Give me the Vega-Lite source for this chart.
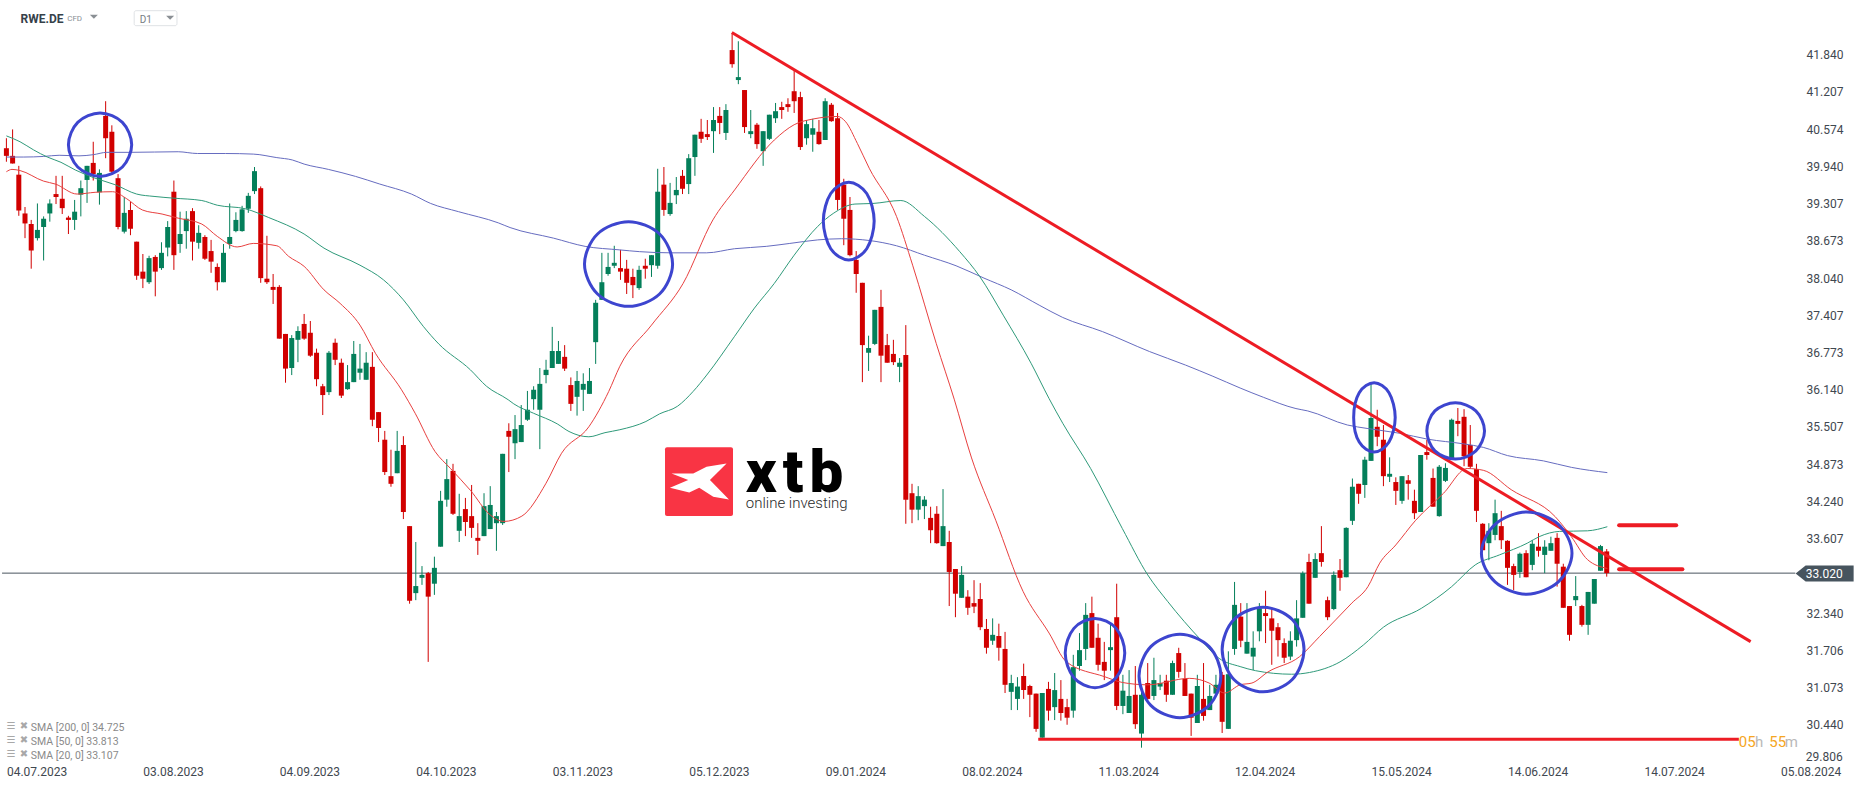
{
  "$schema": "https://vega.github.io/schema/vega-lite/v6.json",
  "width": 1866,
  "height": 787,
  "padding": 0,
  "autosize": {"type": "none"},
  "background": "white",
  "config": {"view": {"stroke": null}, "font": "Roboto"},
  "datasets": {
    "candles": [
      {"n":0,"open":40.25,"high":40.42,"low":40.02,"close":40.12},
      {"n":1,"open":40.12,"high":40.57,"low":39.99,"close":39.99},
      {"n":2,"open":39.80,"high":39.95,"low":39.10,"close":39.19},
      {"n":3,"open":39.14,"high":39.25,"low":38.72,"close":38.97},
      {"n":4,"open":38.96,"high":39.03,"low":38.20,"close":38.51},
      {"n":5,"open":38.72,"high":39.31,"low":38.68,"close":38.86},
      {"n":6,"open":38.91,"high":39.09,"low":38.34,"close":39.05},
      {"n":7,"open":39.14,"high":39.38,"low":39.00,"close":39.31},
      {"n":8,"open":39.47,"high":39.78,"low":39.30,"close":39.42},
      {"n":9,"open":39.39,"high":39.78,"low":39.13,"close":39.23},
      {"n":10,"open":39.07,"high":39.10,"low":38.79,"close":39.03},
      {"n":11,"open":39.03,"high":39.37,"low":38.86,"close":39.17},
      {"n":12,"open":39.46,"high":39.70,"low":39.09,"close":39.57},
      {"n":13,"open":39.71,"high":39.95,"low":39.32,"close":39.95},
      {"n":14,"open":40.00,"high":40.36,"low":39.70,"close":39.81},
      {"n":15,"open":39.50,"high":39.89,"low":39.29,"close":39.83},
      {"n":16,"open":40.80,"high":41.05,"low":40.08,"close":40.42},
      {"n":17,"open":40.53,"high":40.64,"low":39.80,"close":39.85},
      {"n":18,"open":39.74,"high":39.81,"low":38.87,"close":38.91},
      {"n":19,"open":38.83,"high":39.42,"low":38.80,"close":39.15},
      {"n":20,"open":39.20,"high":39.34,"low":38.77,"close":38.88},
      {"n":21,"open":38.66,"high":38.66,"low":38.01,"close":38.08},
      {"n":22,"open":38.15,"high":38.45,"low":37.87,"close":38.03},
      {"n":23,"open":37.97,"high":38.42,"low":37.94,"close":38.38},
      {"n":24,"open":38.40,"high":38.43,"low":37.73,"close":38.15},
      {"n":25,"open":38.21,"high":38.65,"low":38.18,"close":38.47},
      {"n":26,"open":38.56,"high":39.01,"low":38.41,"close":38.91},
      {"n":27,"open":39.51,"high":39.70,"low":38.18,"close":38.43},
      {"n":28,"open":38.62,"high":39.17,"low":38.47,"close":38.79},
      {"n":29,"open":38.84,"high":39.18,"low":38.54,"close":39.05},
      {"n":30,"open":39.18,"high":39.23,"low":38.34,"close":38.66},
      {"n":31,"open":38.64,"high":38.94,"low":38.54,"close":38.81},
      {"n":32,"open":38.74,"high":38.77,"low":38.35,"close":38.37},
      {"n":33,"open":38.50,"high":38.69,"low":38.13,"close":38.32},
      {"n":34,"open":38.23,"high":38.29,"low":37.83,"close":37.97},
      {"n":35,"open":37.97,"high":38.62,"low":37.97,"close":38.47},
      {"n":36,"open":38.62,"high":39.31,"low":38.54,"close":38.74},
      {"n":37,"open":38.84,"high":39.16,"low":38.82,"close":39.03},
      {"n":38,"open":38.84,"high":39.27,"low":38.83,"close":39.21},
      {"n":39,"open":39.22,"high":39.49,"low":39.15,"close":39.44},
      {"n":40,"open":39.52,"high":39.93,"low":39.47,"close":39.86},
      {"n":41,"open":39.57,"high":39.60,"low":37.96,"close":38.04},
      {"n":42,"open":38.03,"high":38.76,"low":37.94,"close":37.97},
      {"n":43,"open":37.89,"high":38.11,"low":37.60,"close":37.84},
      {"n":44,"open":37.89,"high":37.92,"low":37.01,"close":37.01},
      {"n":45,"open":37.09,"high":37.09,"low":36.26,"close":36.50},
      {"n":46,"open":36.51,"high":37.07,"low":36.39,"close":37.02},
      {"n":47,"open":36.99,"high":37.22,"low":36.61,"close":37.14},
      {"n":48,"open":37.26,"high":37.43,"low":36.99,"close":37.01},
      {"n":49,"open":37.11,"high":37.31,"low":36.70,"close":36.72},
      {"n":50,"open":36.77,"high":36.84,"low":36.20,"close":36.32},
      {"n":51,"open":36.20,"high":36.24,"low":35.71,"close":36.05},
      {"n":52,"open":36.10,"high":36.80,"low":36.05,"close":36.77},
      {"n":53,"open":36.94,"high":37.01,"low":36.56,"close":36.65},
      {"n":54,"open":36.60,"high":36.67,"low":36.00,"close":36.04},
      {"n":55,"open":36.15,"high":36.56,"low":36.14,"close":36.27},
      {"n":56,"open":36.27,"high":36.97,"low":36.27,"close":36.75},
      {"n":57,"open":36.43,"high":36.92,"low":36.31,"close":36.50},
      {"n":58,"open":36.31,"high":36.78,"low":36.31,"close":36.60},
      {"n":59,"open":36.53,"high":36.78,"low":35.52,"close":35.63},
      {"n":60,"open":35.76,"high":35.76,"low":35.25,"close":35.49},
      {"n":61,"open":35.29,"high":35.44,"low":34.69,"close":34.74},
      {"n":62,"open":34.67,"high":35.12,"low":34.49,"close":34.54},
      {"n":63,"open":34.72,"high":35.44,"low":34.72,"close":35.10},
      {"n":64,"open":35.20,"high":35.35,"low":33.94,"close":34.06},
      {"n":65,"open":33.82,"high":33.82,"low":32.50,"close":32.55},
      {"n":66,"open":32.68,"high":33.55,"low":32.56,"close":32.80},
      {"n":67,"open":32.94,"high":33.14,"low":32.82,"close":32.99},
      {"n":68,"open":33.02,"high":33.04,"low":31.51,"close":32.62},
      {"n":69,"open":32.84,"high":33.30,"low":32.65,"close":33.11},
      {"n":70,"open":33.47,"high":34.42,"low":33.47,"close":34.25},
      {"n":71,"open":34.27,"high":34.96,"low":34.15,"close":34.62},
      {"n":72,"open":34.76,"high":34.88,"low":34.01,"close":34.03},
      {"n":73,"open":33.74,"high":34.37,"low":33.55,"close":33.99},
      {"n":74,"open":34.11,"high":34.30,"low":33.65,"close":33.89},
      {"n":75,"open":33.99,"high":34.52,"low":33.62,"close":33.79},
      {"n":76,"open":33.62,"high":33.87,"low":33.33,"close":33.57},
      {"n":77,"open":33.65,"high":34.38,"low":33.65,"close":34.16},
      {"n":78,"open":33.77,"high":34.50,"low":33.77,"close":34.18},
      {"n":79,"open":33.87,"high":34.06,"low":33.40,"close":33.99},
      {"n":80,"open":33.87,"high":35.05,"low":33.84,"close":35.05},
      {"n":81,"open":35.44,"high":35.57,"low":34.74,"close":35.34},
      {"n":82,"open":35.23,"high":35.71,"low":34.96,"close":35.47},
      {"n":83,"open":35.25,"high":35.88,"low":35.25,"close":35.54},
      {"n":84,"open":35.63,"high":36.12,"low":35.61,"close":35.80},
      {"n":85,"open":35.98,"high":36.20,"low":35.80,"close":36.14},
      {"n":86,"open":35.80,"high":36.51,"low":35.13,"close":36.24},
      {"n":87,"open":36.39,"high":36.65,"low":36.25,"close":36.48},
      {"n":88,"open":36.51,"high":37.21,"low":36.51,"close":36.80},
      {"n":89,"open":36.58,"high":36.97,"low":36.58,"close":36.80},
      {"n":90,"open":36.70,"high":36.90,"low":36.46,"close":36.50},
      {"n":91,"open":36.22,"high":36.35,"low":35.78,"close":35.90},
      {"n":92,"open":36.02,"high":36.46,"low":35.70,"close":36.29},
      {"n":93,"open":36.14,"high":36.42,"low":35.78,"close":36.24},
      {"n":94,"open":36.07,"high":36.51,"low":36.07,"close":36.29},
      {"n":95,"open":36.95,"high":37.67,"low":36.58,"close":37.62},
      {"n":96,"open":37.67,"high":38.47,"low":37.67,"close":37.97},
      {"n":97,"open":38.11,"high":38.47,"low":38.08,"close":38.23},
      {"n":98,"open":38.25,"high":38.59,"low":38.21,"close":38.30},
      {"n":99,"open":38.21,"high":38.52,"low":38.01,"close":38.15},
      {"n":100,"open":38.20,"high":38.35,"low":37.77,"close":37.96},
      {"n":101,"open":38.06,"high":38.20,"low":37.70,"close":37.92},
      {"n":102,"open":37.87,"high":38.25,"low":37.84,"close":38.18},
      {"n":103,"open":38.25,"high":38.37,"low":38.03,"close":38.20},
      {"n":104,"open":38.26,"high":38.43,"low":38.06,"close":38.43},
      {"n":105,"open":38.25,"high":39.90,"low":38.20,"close":39.51},
      {"n":106,"open":39.63,"high":39.93,"low":39.10,"close":39.20},
      {"n":107,"open":39.13,"high":39.66,"low":39.10,"close":39.32},
      {"n":108,"open":39.45,"high":39.76,"low":39.30,"close":39.54},
      {"n":109,"open":39.78,"high":39.88,"low":39.47,"close":39.56},
      {"n":110,"open":39.64,"high":40.15,"low":39.47,"close":40.08},
      {"n":111,"open":40.10,"high":40.48,"low":39.78,"close":40.48},
      {"n":112,"open":40.53,"high":40.75,"low":40.34,"close":40.41},
      {"n":113,"open":40.49,"high":40.73,"low":40.39,"close":40.44},
      {"n":114,"open":40.54,"high":40.95,"low":40.17,"close":40.73},
      {"n":115,"open":40.80,"high":40.95,"low":40.49,"close":40.68},
      {"n":116,"open":40.51,"high":41.00,"low":40.39,"close":40.90},
      {"n":117,"open":41.92,"high":42.21,"low":41.62,"close":41.68},
      {"n":118,"open":41.41,"high":42.07,"low":41.34,"close":41.46},
      {"n":119,"open":41.24,"high":41.24,"low":40.51,"close":40.61},
      {"n":120,"open":40.49,"high":40.90,"low":40.42,"close":40.54},
      {"n":121,"open":40.65,"high":40.68,"low":40.24,"close":40.32},
      {"n":122,"open":40.20,"high":40.54,"low":39.95,"close":40.54},
      {"n":123,"open":40.41,"high":40.82,"low":40.39,"close":40.82},
      {"n":124,"open":40.76,"high":41.02,"low":40.68,"close":40.88},
      {"n":125,"open":40.95,"high":41.04,"low":40.75,"close":40.90},
      {"n":126,"open":41.00,"high":41.10,"low":40.87,"close":40.95},
      {"n":127,"open":41.22,"high":41.58,"low":40.85,"close":41.05},
      {"n":128,"open":41.12,"high":41.21,"low":40.22,"close":40.27},
      {"n":129,"open":40.42,"high":40.73,"low":40.31,"close":40.66},
      {"n":130,"open":40.48,"high":40.75,"low":40.19,"close":40.59},
      {"n":131,"open":40.53,"high":40.73,"low":40.31,"close":40.32},
      {"n":132,"open":40.39,"high":41.10,"low":40.39,"close":41.05},
      {"n":133,"open":40.99,"high":41.02,"low":40.70,"close":40.71},
      {"n":134,"open":40.76,"high":40.85,"low":39.20,"close":39.37},
      {"n":135,"open":39.63,"high":39.73,"low":38.60,"close":39.05},
      {"n":136,"open":39.20,"high":39.42,"low":38.41,"close":38.43},
      {"n":137,"open":38.35,"high":38.50,"low":37.79,"close":38.11},
      {"n":138,"open":37.96,"high":37.96,"low":36.27,"close":36.90},
      {"n":139,"open":36.77,"high":37.06,"low":36.46,"close":36.85},
      {"n":140,"open":36.92,"high":37.50,"low":36.90,"close":37.50},
      {"n":141,"open":37.55,"high":37.84,"low":36.27,"close":36.72},
      {"n":142,"open":36.90,"high":37.09,"low":36.60,"close":36.60},
      {"n":143,"open":36.75,"high":36.99,"low":36.56,"close":36.61},
      {"n":144,"open":36.53,"high":36.68,"low":36.27,"close":36.60},
      {"n":145,"open":36.73,"high":37.24,"low":33.86,"close":34.27},
      {"n":146,"open":34.38,"high":34.54,"low":33.87,"close":34.10},
      {"n":147,"open":34.10,"high":34.50,"low":33.92,"close":34.33},
      {"n":148,"open":34.16,"high":34.33,"low":33.94,"close":34.27},
      {"n":149,"open":33.96,"high":34.15,"low":33.53,"close":33.75},
      {"n":150,"open":34.03,"high":34.16,"low":33.52,"close":33.53},
      {"n":151,"open":33.48,"high":34.45,"low":33.48,"close":33.82},
      {"n":152,"open":33.55,"high":33.74,"low":32.46,"close":33.04},
      {"n":153,"open":33.09,"high":33.09,"low":32.27,"close":32.67},
      {"n":154,"open":32.60,"high":33.14,"low":32.60,"close":32.99},
      {"n":155,"open":32.62,"high":32.73,"low":32.31,"close":32.43},
      {"n":156,"open":32.51,"high":32.90,"low":32.34,"close":32.45},
      {"n":157,"open":32.58,"high":32.85,"low":32.05,"close":32.10},
      {"n":158,"open":32.07,"high":32.24,"low":31.65,"close":31.75},
      {"n":159,"open":31.87,"high":32.25,"low":31.80,"close":31.97},
      {"n":160,"open":31.95,"high":32.16,"low":31.53,"close":31.75},
      {"n":161,"open":31.73,"high":32.02,"low":30.98,"close":31.12},
      {"n":162,"open":31.00,"high":31.29,"low":30.69,"close":31.15},
      {"n":163,"open":30.88,"high":31.25,"low":30.69,"close":31.09},
      {"n":164,"open":31.27,"high":31.48,"low":30.88,"close":31.03},
      {"n":165,"open":31.10,"high":31.12,"low":30.57,"close":30.95},
      {"n":166,"open":30.97,"high":30.97,"low":30.32,"close":30.37},
      {"n":167,"open":30.22,"high":30.98,"low":30.22,"close":30.98},
      {"n":168,"open":31.05,"high":31.17,"low":30.51,"close":30.68},
      {"n":169,"open":30.74,"high":31.32,"low":30.52,"close":31.03},
      {"n":170,"open":30.88,"high":31.20,"low":30.51,"close":30.64},
      {"n":171,"open":30.74,"high":30.88,"low":30.44,"close":30.56},
      {"n":172,"open":30.68,"high":31.63,"low":30.56,"close":31.42},
      {"n":173,"open":31.44,"high":32.00,"low":31.36,"close":31.71},
      {"n":174,"open":31.73,"high":32.51,"low":31.54,"close":32.31},
      {"n":175,"open":32.34,"high":32.62,"low":31.75,"close":31.75},
      {"n":176,"open":31.92,"high":32.16,"low":31.36,"close":31.46},
      {"n":177,"open":31.51,"high":31.85,"low":31.20,"close":31.36},
      {"n":178,"open":31.71,"high":32.14,"low":31.36,"close":31.76},
      {"n":179,"open":32.27,"high":32.84,"low":30.69,"close":30.76},
      {"n":180,"open":30.76,"high":31.29,"low":30.62,"close":31.02},
      {"n":181,"open":30.64,"high":31.37,"low":30.64,"close":30.93},
      {"n":182,"open":30.95,"high":31.44,"low":30.37,"close":30.45},
      {"n":183,"open":30.29,"high":31.12,"low":30.05,"close":30.95},
      {"n":184,"open":31.15,"high":31.49,"low":30.86,"close":30.88},
      {"n":185,"open":30.93,"high":31.58,"low":30.86,"close":31.20},
      {"n":186,"open":31.09,"high":31.29,"low":31.03,"close":31.15},
      {"n":187,"open":31.19,"high":31.29,"low":30.83,"close":30.95},
      {"n":188,"open":30.95,"high":31.53,"low":30.95,"close":31.49},
      {"n":189,"open":31.66,"high":31.75,"low":31.24,"close":31.34},
      {"n":190,"open":31.22,"high":31.49,"low":30.93,"close":30.93},
      {"n":191,"open":30.97,"high":30.97,"low":30.25,"close":30.56},
      {"n":192,"open":30.47,"high":31.29,"low":30.47,"close":31.10},
      {"n":193,"open":30.88,"high":31.49,"low":30.51,"close":30.59},
      {"n":194,"open":30.69,"high":31.12,"low":30.69,"close":30.93},
      {"n":195,"open":30.97,"high":31.29,"low":30.95,"close":31.12},
      {"n":196,"open":31.29,"high":31.34,"low":30.30,"close":30.49},
      {"n":197,"open":30.37,"high":31.69,"low":30.37,"close":31.30},
      {"n":198,"open":31.73,"high":32.87,"low":31.63,"close":32.48},
      {"n":199,"open":32.28,"high":32.51,"low":31.76,"close":31.87},
      {"n":200,"open":31.65,"high":32.51,"low":31.65,"close":31.85},
      {"n":201,"open":31.60,"high":32.03,"low":31.37,"close":31.75},
      {"n":202,"open":32.03,"high":32.51,"low":31.86,"close":32.42},
      {"n":203,"open":32.34,"high":32.72,"low":31.83,"close":32.29},
      {"n":204,"open":32.25,"high":32.44,"low":31.46,"close":32.04},
      {"n":205,"open":32.10,"high":32.17,"low":31.60,"close":31.88},
      {"n":206,"open":31.83,"high":31.91,"low":31.49,"close":31.58},
      {"n":207,"open":31.60,"high":32.03,"low":31.54,"close":31.87},
      {"n":208,"open":31.88,"high":32.56,"low":31.77,"close":32.25},
      {"n":209,"open":32.26,"high":33.05,"low":32.26,"close":33.02},
      {"n":210,"open":33.21,"high":33.35,"low":32.50,"close":32.50},
      {"n":211,"open":32.94,"high":33.36,"low":32.94,"close":33.26},
      {"n":212,"open":33.36,"high":33.82,"low":33.13,"close":33.21},
      {"n":213,"open":32.56,"high":32.62,"low":32.22,"close":32.27},
      {"n":214,"open":32.41,"high":33.05,"low":32.39,"close":32.99},
      {"n":215,"open":33.07,"high":33.26,"low":32.72,"close":32.94},
      {"n":216,"open":32.95,"high":33.80,"low":32.95,"close":33.79},
      {"n":217,"open":33.91,"high":34.63,"low":33.84,"close":34.49},
      {"n":218,"open":34.54,"high":34.54,"low":34.20,"close":34.37},
      {"n":219,"open":34.52,"high":35.00,"low":34.30,"close":34.95},
      {"n":220,"open":34.93,"high":36.27,"low":34.93,"close":35.66},
      {"n":221,"open":35.51,"high":35.80,"low":35.18,"close":35.34},
      {"n":222,"open":35.29,"high":35.54,"low":34.50,"close":34.67},
      {"n":223,"open":34.66,"high":34.99,"low":34.57,"close":34.71},
      {"n":224,"open":34.57,"high":34.65,"low":34.18,"close":34.42},
      {"n":225,"open":34.25,"high":34.67,"low":34.20,"close":34.67},
      {"n":226,"open":34.60,"high":34.69,"low":34.27,"close":34.54},
      {"n":227,"open":34.25,"high":34.44,"low":33.94,"close":34.04},
      {"n":228,"open":34.06,"high":35.03,"low":34.06,"close":35.03},
      {"n":229,"open":35.08,"high":35.29,"low":34.95,"close":35.03},
      {"n":230,"open":34.64,"high":34.80,"low":34.15,"close":34.15},
      {"n":231,"open":33.99,"high":34.86,"low":33.98,"close":34.83},
      {"n":232,"open":34.59,"high":34.89,"low":34.57,"close":34.81},
      {"n":233,"open":34.98,"high":35.65,"low":34.98,"close":35.63},
      {"n":234,"open":35.61,"high":35.83,"low":35.35,"close":35.56},
      {"n":235,"open":35.68,"high":35.81,"low":34.84,"close":35.01},
      {"n":236,"open":35.20,"high":35.54,"low":34.80,"close":34.83},
      {"n":237,"open":34.79,"high":34.88,"low":33.89,"close":34.08},
      {"n":238,"open":33.86,"high":33.87,"low":33.41,"close":33.41},
      {"n":239,"open":33.53,"high":33.87,"low":33.24,"close":33.74},
      {"n":240,"open":33.67,"high":34.27,"low":33.58,"close":34.04},
      {"n":241,"open":33.82,"high":34.08,"low":33.43,"close":33.58},
      {"n":242,"open":33.57,"high":33.58,"low":32.82,"close":33.11},
      {"n":243,"open":33.14,"high":33.18,"low":32.73,"close":32.99},
      {"n":244,"open":33.04,"high":33.37,"low":32.94,"close":33.35},
      {"n":245,"open":33.36,"high":33.41,"low":32.95,"close":32.95},
      {"n":246,"open":33.16,"high":33.58,"low":33.07,"close":33.52},
      {"n":247,"open":33.47,"high":33.70,"low":33.30,"close":33.40},
      {"n":248,"open":33.33,"high":33.58,"low":33.02,"close":33.47},
      {"n":249,"open":33.40,"high":33.64,"low":33.40,"close":33.53},
      {"n":250,"open":33.62,"high":33.70,"low":32.79,"close":33.18},
      {"n":251,"open":33.13,"high":33.18,"low":32.43,"close":32.43},
      {"n":252,"open":32.46,"high":32.46,"low":31.87,"close":31.97},
      {"n":253,"open":32.56,"high":32.97,"low":32.46,"close":32.63},
      {"n":254,"open":32.46,"high":32.48,"low":32.11,"close":32.14},
      {"n":255,"open":32.14,"high":32.70,"low":31.97,"close":32.70},
      {"n":256,"open":32.50,"high":32.92,"low":32.50,"close":32.92},
      {"n":257,"open":33.06,"high":33.50,"low":33.06,"close":33.48},
      {"n":258,"open":33.39,"high":33.43,"low":32.96,"close":33.02}
    ],
    "sma": [
      {"sma":"200","n":0,"price":40.10},{"sma":"200","n":2.8,"price":40.10},{"sma":"200","n":6,"price":40.11},{"sma":"200","n":8.5,"price":40.13},{"sma":"200","n":11.7,"price":40.12},{"sma":"200","n":14,"price":40.14},{"sma":"200","n":16.2,"price":40.18},{"sma":"200","n":20,"price":40.18},{"sma":"200","n":27.7,"price":40.19},{"sma":"200","n":30.8,"price":40.16},{"sma":"200","n":35.3,"price":40.16},{"sma":"200","n":39.8,"price":40.15},{"sma":"200","n":43.6,"price":40.09},{"sma":"200","n":46.1,"price":40.05},{"sma":"200","n":48,"price":39.98},{"sma":"200","n":51.9,"price":39.89},{"sma":"200","n":56.3,"price":39.77},{"sma":"200","n":60.2,"price":39.64},{"sma":"200","n":65.3,"price":39.47},{"sma":"200","n":68.4,"price":39.31},{"sma":"200","n":72.9,"price":39.17},{"sma":"200","n":79.3,"price":38.98},{"sma":"200","n":81.2,"price":38.90},{"sma":"200","n":88.2,"price":38.72},{"sma":"200","n":93.3,"price":38.58},{"sma":"200","n":98.9,"price":38.52},{"sma":"200","n":102.1,"price":38.49},{"sma":"200","n":107.2,"price":38.47},{"sma":"200","n":112.9,"price":38.47},{"sma":"200","n":117.4,"price":38.54},{"sma":"200","n":122.5,"price":38.58},{"sma":"200","n":126.3,"price":38.63},{"sma":"200","n":130.8,"price":38.69},{"sma":"200","n":134.6,"price":38.71},{"sma":"200","n":139.1,"price":38.68},{"sma":"200","n":143.5,"price":38.59},{"sma":"200","n":148,"price":38.43},{"sma":"200","n":153.1,"price":38.25},{"sma":"200","n":157.6,"price":38.04},{"sma":"200","n":162,"price":37.84},{"sma":"200","n":166.5,"price":37.58},{"sma":"200","n":170.3,"price":37.37},{"sma":"200","n":176.7,"price":37.13},{"sma":"200","n":184.3,"price":36.79},{"sma":"200","n":190.1,"price":36.56},{"sma":"200","n":194.5,"price":36.37},{"sma":"200","n":198.9,"price":36.17},{"sma":"200","n":202.7,"price":36.01},{"sma":"200","n":207.9,"price":35.82},{"sma":"200","n":209.8,"price":35.78},{"sma":"200","n":216.2,"price":35.54},{"sma":"200","n":219.5,"price":35.48},{"sma":"200","n":224.6,"price":35.40},{"sma":"200","n":229.1,"price":35.30},{"sma":"200","n":234.9,"price":35.22},{"sma":"200","n":238.1,"price":35.16},{"sma":"200","n":242,"price":35.02},{"sma":"200","n":247.8,"price":34.93},{"sma":"200","n":252.3,"price":34.82},{"sma":"200","n":258.1,"price":34.73},
      {"sma":"50","n":0,"price":40.46},{"sma":"50","n":2.2,"price":40.36},{"sma":"50","n":4.4,"price":40.22},{"sma":"50","n":6.6,"price":40.10},{"sma":"50","n":8.8,"price":40.01},{"sma":"50","n":11.1,"price":39.88},{"sma":"50","n":14.3,"price":39.74},{"sma":"50","n":17.5,"price":39.63},{"sma":"50","n":21,"price":39.47},{"sma":"50","n":23.8,"price":39.43},{"sma":"50","n":27,"price":39.40},{"sma":"50","n":31.5,"price":39.36},{"sma":"50","n":34,"price":39.28},{"sma":"50","n":38.5,"price":39.22},{"sma":"50","n":42.3,"price":39.07},{"sma":"50","n":48,"price":38.79},{"sma":"50","n":51.2,"price":38.55},{"sma":"50","n":57,"price":38.26},{"sma":"50","n":60.8,"price":38.01},{"sma":"50","n":64,"price":37.67},{"sma":"50","n":67.2,"price":37.22},{"sma":"50","n":69.7,"price":36.92},{"sma":"50","n":74.8,"price":36.48},{"sma":"50","n":77.4,"price":36.20},{"sma":"50","n":80.9,"price":35.97},{"sma":"50","n":81.8,"price":35.90},{"sma":"50","n":85,"price":35.74},{"sma":"50","n":88.8,"price":35.56},{"sma":"50","n":90.7,"price":35.43},{"sma":"50","n":93.9,"price":35.34},{"sma":"50","n":96.5,"price":35.41},{"sma":"50","n":98.9,"price":35.46},{"sma":"50","n":103.1,"price":35.60},{"sma":"50","n":105.3,"price":35.73},{"sma":"50","n":108.2,"price":35.86},{"sma":"50","n":110.7,"price":36.11},{"sma":"50","n":112.9,"price":36.39},{"sma":"50","n":117.4,"price":37.05},{"sma":"50","n":120.6,"price":37.53},{"sma":"50","n":123.8,"price":37.95},{"sma":"50","n":127,"price":38.43},{"sma":"50","n":130.8,"price":38.92},{"sma":"50","n":133.3,"price":39.14},{"sma":"50","n":136.8,"price":39.30},{"sma":"50","n":139.7,"price":39.31},{"sma":"50","n":144.2,"price":39.36},{"sma":"50","n":148,"price":39.09},{"sma":"50","n":153.7,"price":38.49},{"sma":"50","n":156.9,"price":38.07},{"sma":"50","n":160.7,"price":37.41},{"sma":"50","n":165.2,"price":36.59},{"sma":"50","n":168.1,"price":35.99},{"sma":"50","n":170.3,"price":35.57},{"sma":"50","n":174.8,"price":34.80},{"sma":"50","n":179.9,"price":33.78},{"sma":"50","n":184,"price":32.99},{"sma":"50","n":187.2,"price":32.54},{"sma":"50","n":192.6,"price":31.88},{"sma":"50","n":195.5,"price":31.57},{"sma":"50","n":198.9,"price":31.43},{"sma":"50","n":201.4,"price":31.36},{"sma":"50","n":207.2,"price":31.30},{"sma":"50","n":210.1,"price":31.33},{"sma":"50","n":215,"price":31.51},{"sma":"50","n":218.8,"price":31.80},{"sma":"50","n":222,"price":32.10},{"sma":"50","n":228.1,"price":32.42},{"sma":"50","n":233,"price":32.79},{"sma":"50","n":236.8,"price":33.16},{"sma":"50","n":240.7,"price":33.33},{"sma":"50","n":245.2,"price":33.53},{"sma":"50","n":247.1,"price":33.64},{"sma":"50","n":250.4,"price":33.73},{"sma":"50","n":254.9,"price":33.74},{"sma":"50","n":258.1,"price":33.81},
      {"sma":"20","n":0,"price":39.85},{"sma":"20","n":0.9,"price":39.89},{"sma":"20","n":2.2,"price":39.87},{"sma":"20","n":6,"price":39.69},{"sma":"20","n":7.9,"price":39.64},{"sma":"20","n":11.4,"price":39.47},{"sma":"20","n":14.3,"price":39.50},{"sma":"20","n":17.1,"price":39.51},{"sma":"20","n":19.4,"price":39.39},{"sma":"20","n":21.9,"price":39.20},{"sma":"20","n":25.1,"price":39.13},{"sma":"20","n":27.7,"price":39.06},{"sma":"20","n":31.5,"price":38.96},{"sma":"20","n":34,"price":38.75},{"sma":"20","n":37.2,"price":38.57},{"sma":"20","n":39.8,"price":38.63},{"sma":"20","n":43.6,"price":38.59},{"sma":"20","n":45.5,"price":38.41},{"sma":"20","n":48,"price":38.24},{"sma":"20","n":51.2,"price":37.84},{"sma":"20","n":53.8,"price":37.61},{"sma":"20","n":57,"price":37.24},{"sma":"20","n":59.5,"price":36.76},{"sma":"20","n":63.7,"price":36.14},{"sma":"20","n":65.9,"price":35.74},{"sma":"20","n":69.1,"price":35.09},{"sma":"20","n":71.6,"price":34.80},{"sma":"20","n":74.8,"price":34.43},{"sma":"20","n":78,"price":34.01},{"sma":"20","n":80.2,"price":33.90},{"sma":"20","n":83.1,"price":33.99},{"sma":"20","n":87,"price":34.55},{"sma":"20","n":89.5,"price":35.06},{"sma":"20","n":93.9,"price":35.51},{"sma":"20","n":97.1,"price":36.11},{"sma":"20","n":98.9,"price":36.54},{"sma":"20","n":104,"price":37.24},{"sma":"20","n":109.1,"price":37.95},{"sma":"20","n":113.9,"price":39.03},{"sma":"20","n":117.4,"price":39.54},{"sma":"20","n":123.8,"price":40.39},{"sma":"20","n":127,"price":40.65},{"sma":"20","n":130.2,"price":40.75},{"sma":"20","n":134,"price":40.79},{"sma":"20","n":135.3,"price":40.70},{"sma":"20","n":137.2,"price":40.33},{"sma":"20","n":139.1,"price":39.91},{"sma":"20","n":143.5,"price":39.09},{"sma":"20","n":146.1,"price":38.26},{"sma":"20","n":149.9,"price":36.93},{"sma":"20","n":152.8,"price":35.98},{"sma":"20","n":155.6,"price":34.98},{"sma":"20","n":159.5,"price":33.92},{"sma":"20","n":163.9,"price":32.71},{"sma":"20","n":168.1,"price":32.00},{"sma":"20","n":170.9,"price":31.51},{"sma":"20","n":177,"price":31.26},{"sma":"20","n":179.9,"price":31.16},{"sma":"20","n":184,"price":31.12},{"sma":"20","n":190.7,"price":31.23},{"sma":"20","n":193.9,"price":31.15},{"sma":"20","n":196.4,"price":30.98},{"sma":"20","n":198.9,"price":31.12},{"sma":"20","n":200.8,"price":31.15},{"sma":"20","n":203.4,"price":31.34},{"sma":"20","n":208.5,"price":31.60},{"sma":"20","n":211.7,"price":31.94},{"sma":"20","n":216.9,"price":32.51},{"sma":"20","n":219.5,"price":32.79},{"sma":"20","n":221.4,"price":33.19},{"sma":"20","n":224,"price":33.50},{"sma":"20","n":227.2,"price":33.92},{"sma":"20","n":231.7,"price":34.38},{"sma":"20","n":235.5,"price":34.80},{"sma":"20","n":238.1,"price":34.77},{"sma":"20","n":242.6,"price":34.44},{"sma":"20","n":249.7,"price":33.98},{"sma":"20","n":252.3,"price":33.64},{"sma":"20","n":254.9,"price":33.25},{"sma":"20","n":258.1,"price":33.10}
    ],
    "circles": [
      {"id":1,"k":0,"n":20.2,"price":40.31},{"id":1,"k":1,"n":18.7,"price":40.69},{"id":1,"k":2,"n":15.1,"price":40.85},{"id":1,"k":3,"n":11.5,"price":40.69},{"id":1,"k":4,"n":10.0,"price":40.31},{"id":1,"k":5,"n":11.5,"price":39.93},{"id":1,"k":6,"n":15.1,"price":39.77},{"id":1,"k":7,"n":18.7,"price":39.93},
      {"id":2,"k":0,"n":107.4,"price":38.28},{"id":2,"k":1,"n":105.3,"price":38.79},{"id":2,"k":2,"n":100.3,"price":39.0},{"id":2,"k":3,"n":95.3,"price":38.79},{"id":2,"k":4,"n":93.2,"price":38.28},{"id":2,"k":5,"n":95.3,"price":37.77},{"id":2,"k":6,"n":100.3,"price":37.56},{"id":2,"k":7,"n":105.3,"price":37.77},
      {"id":3,"k":0,"n":139.9,"price":39.01},{"id":3,"k":1,"n":138.7,"price":39.48},{"id":3,"k":2,"n":135.8,"price":39.67},{"id":3,"k":3,"n":132.9,"price":39.48},{"id":3,"k":4,"n":131.7,"price":39.01},{"id":3,"k":5,"n":132.9,"price":38.54},{"id":3,"k":6,"n":135.8,"price":38.35},{"id":3,"k":7,"n":138.7,"price":38.54},
      {"id":4,"k":0,"n":180.3,"price":31.66},{"id":4,"k":1,"n":178.9,"price":32.08},{"id":4,"k":2,"n":175.5,"price":32.25},{"id":4,"k":3,"n":172.1,"price":32.08},{"id":4,"k":4,"n":170.7,"price":31.66},{"id":4,"k":5,"n":172.1,"price":31.24},{"id":4,"k":6,"n":175.5,"price":31.07},{"id":4,"k":7,"n":178.9,"price":31.24},
      {"id":5,"k":0,"n":195.8,"price":31.27},{"id":5,"k":1,"n":193.9,"price":31.77},{"id":5,"k":2,"n":189.2,"price":31.98},{"id":5,"k":3,"n":184.5,"price":31.77},{"id":5,"k":4,"n":182.6,"price":31.27},{"id":5,"k":5,"n":184.5,"price":30.77},{"id":5,"k":6,"n":189.2,"price":30.56},{"id":5,"k":7,"n":193.9,"price":30.77},
      {"id":6,"k":0,"n":209.2,"price":31.72},{"id":6,"k":1,"n":207.3,"price":32.23},{"id":6,"k":2,"n":202.6,"price":32.44},{"id":6,"k":3,"n":197.9,"price":32.23},{"id":6,"k":4,"n":196.0,"price":31.72},{"id":6,"k":5,"n":197.9,"price":31.21},{"id":6,"k":6,"n":202.6,"price":31.0},{"id":6,"k":7,"n":207.3,"price":31.21},
      {"id":7,"k":0,"n":223.9,"price":35.67},{"id":7,"k":1,"n":222.9,"price":36.09},{"id":7,"k":2,"n":220.5,"price":36.26},{"id":7,"k":3,"n":218.1,"price":36.09},{"id":7,"k":4,"n":217.2,"price":35.67},{"id":7,"k":5,"n":218.1,"price":35.25},{"id":7,"k":6,"n":220.5,"price":35.08},{"id":7,"k":7,"n":222.9,"price":35.25},
      {"id":8,"k":0,"n":238.3,"price":35.44},{"id":8,"k":1,"n":236.9,"price":35.78},{"id":8,"k":2,"n":233.6,"price":35.92},{"id":8,"k":3,"n":230.3,"price":35.78},{"id":8,"k":4,"n":229.0,"price":35.44},{"id":8,"k":5,"n":230.3,"price":35.10},{"id":8,"k":6,"n":233.6,"price":34.96},{"id":8,"k":7,"n":236.9,"price":35.10},
      {"id":9,"k":0,"n":252.4,"price":33.36},{"id":9,"k":1,"n":250.2,"price":33.85},{"id":9,"k":2,"n":245.1,"price":34.06},{"id":9,"k":3,"n":240.0,"price":33.85},{"id":9,"k":4,"n":237.8,"price":33.36},{"id":9,"k":5,"n":240.0,"price":32.87},{"id":9,"k":6,"n":245.1,"price":32.66},{"id":9,"k":7,"n":250.2,"price":32.87}
    ]
  },
  "encoding": {
    "x": {
      "field": "n",
      "type": "quantitative",
      "scale": {"domain": [-1.032, 299.8], "nice": false, "zero": false, "padding": 0},
      "axis": {
        "title": null,
        "orient": "bottom",
        "offset": -16,
        "grid": false,
        "domain": false,
        "ticks": false,
        "labelPadding": 0,
        "labelAlign": "left",
        "labelBaseline": "middle",
        "labelFont": "Roboto",
        "labelFontSize": 12,
        "labelColor": "#3f4850",
        "labelOverlap": false,
        "values": [0, 22, 44, 66, 88, 110, 132, 154, 176, 198, 220, 242, 264, 286],
        "labelExpr": "{'0':'04.07.2023','22':'03.08.2023','44':'04.09.2023','66':'04.10.2023','88':'03.11.2023','110':'05.12.2023','132':'09.01.2024','154':'08.02.2024','176':'11.03.2024','198':'12.04.2024','220':'15.05.2024','242':'14.06.2024','264':'14.07.2024','286':'05.08.2024'}[datum.value]"
      }
    },
    "y": {
      "field": "price",
      "type": "quantitative",
      "scale": {"domain": [29.381, 42.772], "nice": false, "zero": false},
      "axis": {
        "title": null,
        "orient": "right",
        "offset": -60,
        "grid": false,
        "domain": false,
        "ticks": false,
        "labelPadding": 0,
        "labelAlign": "left",
        "labelBaseline": "middle",
        "labelFont": "Roboto",
        "labelFontSize": 12,
        "labelColor": "#3f4850",
        "labelOverlap": false,
        "format": ".3f",
        "values": [41.84, 41.207, 40.574, 39.94, 39.307, 38.673, 38.04, 37.407, 36.773, 36.14, 35.507, 34.873, 34.24, 33.607, 32.34, 31.706, 31.073, 30.44]
      }
    }
  },
  "layer": [
    {
      "data": {"values": [{"n": -0.7, "n2": 288.4, "price": 33.02}]},
      "mark": {"type": "rule", "color": "#4a555e", "strokeWidth": 1},
      "encoding": {"x2": {"field": "n2"}}
    },
    {
      "data": {"name": "candles"},
      "mark": {"type": "rule", "strokeWidth": 1},
      "encoding": {
        "y": {"field": "high", "type": "quantitative"},
        "y2": {"field": "low"},
        "color": {"condition": {"test": "datum.close >= datum.open", "value": "#047f5a"}, "value": "#d10000"}
      }
    },
    {
      "data": {"name": "candles"},
      "mark": {"type": "bar", "size": 5},
      "encoding": {
        "y": {"field": "open", "type": "quantitative"},
        "y2": {"field": "close"},
        "color": {"condition": {"test": "datum.close >= datum.open", "value": "#047f5a"}, "value": "#d10000"}
      }
    },
    {
      "data": {"name": "sma"},
      "mark": {"type": "line", "strokeWidth": 1, "interpolate": "monotone"},
      "encoding": {
        "color": {
          "field": "sma",
          "type": "nominal",
          "legend": null,
          "scale": {"domain": ["200", "50", "20"], "range": ["#666cc0", "#2f9a7a", "#e8403f"]}
        },
        "detail": {"field": "sma"}
      }
    },
    {
      "data": {"values": [
        {"line": "trend", "n": 116.96, "price": 42.22},
        {"line": "trend", "n": 281.2, "price": 31.855},
        {"line": "floor", "n": 166.35, "price": 30.194},
        {"line": "floor", "n": 279.3, "price": 30.194}
      ]},
      "mark": {"type": "line", "color": "#ed1c24", "strokeWidth": 3},
      "encoding": {"detail": {"field": "line"}}
    },
    {
      "data": {"values": [
        {"line": "upper", "n": 260.0, "price": 33.834},
        {"line": "upper", "n": 269.2, "price": 33.834},
        {"line": "lower", "n": 260.0, "price": 33.086},
        {"line": "lower", "n": 270.2, "price": 33.086}
      ]},
      "mark": {"type": "line", "color": "#ed1c24", "strokeWidth": 4, "strokeCap": "round"},
      "encoding": {"detail": {"field": "line"}}
    },
    {
      "data": {"name": "circles"},
      "mark": {"type": "line", "color": "#3d45cf", "strokeWidth": 3, "interpolate": "cardinal-closed"},
      "encoding": {"detail": {"field": "id"}, "order": {"field": "k"}}
    },
    {
      "data": {"values": [{"n": 288.45, "price": 33.012}]},
      "mark": {
        "type": "point",
        "filled": true,
        "opacity": 1,
        "color": "#47545e",
        "size": 40000,
        "shape": "M0,0 L0.10,-0.08 L0.58,-0.08 L0.58,0.08 L0.10,0.08 Z"
      }
    },
    {
      "data": {"values": [{"n": 290.1, "price": 33.0, "label": "33.020"}]},
      "mark": {"type": "text", "align": "left", "baseline": "middle", "color": "white", "font": "Roboto", "fontSize": 12},
      "encoding": {"text": {"field": "label"}}
    },
    {
      "data": {"values": [{"n": 290.1, "price": 29.89, "label": "29.806"}]},
      "mark": {"type": "text", "align": "left", "baseline": "middle", "color": "#3f4850", "font": "Roboto", "fontSize": 12},
      "encoding": {"text": {"field": "label"}}
    },
    {
      "data": {"values": [{"n": 2.27, "price": 42.443, "label": "RWE.DE"}]},
      "mark": {"type": "text", "align": "left", "baseline": "middle", "color": "#36414a", "font": "Roboto", "fontSize": 12, "fontWeight": "bold"},
      "encoding": {"text": {"field": "label"}}
    },
    {
      "data": {"values": [{"n": 9.8, "price": 42.443, "label": "CFD"}]},
      "mark": {"type": "text", "align": "left", "baseline": "middle", "color": "#8a9096", "font": "Roboto", "fontSize": 8},
      "encoding": {"text": {"field": "label"}}
    },
    {
      "data": {"values": [{"n": 20.6, "n2": 27.5, "price": 42.59, "price2": 42.335}]},
      "mark": {"type": "rect", "fill": "white", "stroke": "#dfe2e5", "cornerRadius": 2, "strokeWidth": 1},
      "encoding": {"x2": {"field": "n2"}, "y2": {"field": "price2"}}
    },
    {
      "data": {"values": [{"n": 21.5, "price": 42.432, "label": "D1"}]},
      "mark": {"type": "text", "align": "left", "baseline": "middle", "color": "#777d83", "font": "Roboto", "fontSize": 10},
      "encoding": {"text": {"field": "label"}}
    },
    {
      "data": {"values": [{"n": 14.1, "price": 42.488}, {"n": 26.4, "price": 42.471}]},
      "mark": {
        "type": "point",
        "filled": true,
        "opacity": 1,
        "color": "#8a8f94",
        "size": 40000,
        "shape": "M-0.04,-0.02 L0.04,-0.02 L0,0.02 Z"
      }
    },
    {
      "data": {"values": [
        {"n": 3.93, "price": 30.392, "label": "SMA [200, 0] 34.725"},
        {"n": 3.93, "price": 30.154, "label": "SMA [50, 0] 33.813"},
        {"n": 3.93, "price": 29.916, "label": "SMA [20, 0] 33.107"}
      ]},
      "mark": {"type": "text", "align": "left", "baseline": "middle", "color": "#8a8a8a", "font": "Roboto", "fontSize": 10.5},
      "encoding": {"text": {"field": "label"}}
    },
    {
      "data": {"values": [
        {"n": 0.74, "price": 30.426, "label": "☰"},
        {"n": 0.74, "price": 30.188, "label": "☰"},
        {"n": 0.74, "price": 29.95, "label": "☰"},
        {"n": 2.84, "price": 30.426, "label": "✖"},
        {"n": 2.84, "price": 30.188, "label": "✖"},
        {"n": 2.84, "price": 29.95, "label": "✖"}
      ]},
      "mark": {"type": "text", "align": "center", "baseline": "middle", "color": "#a8a8a8", "font": "DejaVu Sans", "fontSize": 10},
      "encoding": {"text": {"field": "label"}}
    },
    {
      "data": {"values": [
        {"n": 279.3, "price": 30.147, "label": "05"},
        {"n": 284.2, "price": 30.147, "label": "55"}
      ]},
      "mark": {"type": "text", "align": "left", "baseline": "middle", "color": "#f5a623", "font": "Roboto", "fontSize": 15},
      "encoding": {"text": {"field": "label"}}
    },
    {
      "data": {"values": [
        {"n": 281.9, "price": 30.147, "label": "h"},
        {"n": 286.7, "price": 30.147, "label": "m"}
      ]},
      "mark": {"type": "text", "align": "left", "baseline": "middle", "color": "#b9b9b9", "font": "Roboto", "fontSize": 15},
      "encoding": {"text": {"field": "label"}}
    },
    {
      "data": {"values": [{"n": 106.18, "n2": 117.14, "price": 35.161, "price2": 33.992}]},
      "mark": {"type": "rect", "fill": "#f93444", "cornerRadius": 2},
      "encoding": {"x2": {"field": "n2"}, "y2": {"field": "price2"}}
    },
    {
      "data": {"values": [{"n": 111.7, "price": 34.593}]},
      "mark": {
        "type": "point",
        "filled": true,
        "opacity": 1,
        "color": "white",
        "size": 40000,
        "shape": "M0.273,-0.173 L0.073,-0.14 L-0.06,-0.073 L-0.277,-0.073 L-0.11,-0.007 L-0.293,0.07 L-0.1,0.117 L0,0.07 L0.14,0.16 L0.297,0.187 L0.107,-0.007 Z"
      }
    },
    {
      "data": {"values": [{"n": 119.2, "price": 34.406, "label": "x\u200at\u200ab"}]},
      "mark": {"type": "text", "align": "left", "baseline": "alphabetic", "color": "black", "font": "Roboto", "fontSize": 60, "fontWeight": 900},
      "encoding": {"text": {"field": "label"}}
    },
    {
      "data": {"values": [{"n": 119.2, "price": 34.213, "label": "online investing"}]},
      "mark": {"type": "text", "align": "left", "baseline": "middle", "color": "#2a2a2a", "font": "Roboto", "fontSize": 15, "fontWeight": 300},
      "encoding": {"text": {"field": "label"}}
    }
  ]
}
